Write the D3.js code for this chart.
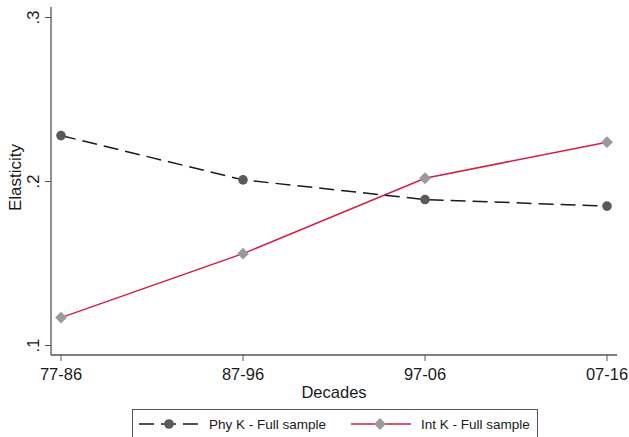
<!DOCTYPE html>
<html>
<head>
<meta charset="utf-8">
<script src="https://cdn.jsdelivr.net/npm/d3@7"></script>
<style>
  body { margin: 0; background: #fff; }
  text { font-family: "Liberation Sans", Arial, sans-serif; fill: #1a1a1a; }
</style>
</head>
<body>
<div id="chart"></div>
<script>
const decades = ["77-86", "87-96", "97-06", "07-16"];
const phyK = [0.228, 0.201, 0.189, 0.185];
const intK = [0.117, 0.156, 0.202, 0.224];
const yTicks = [0.1, 0.2, 0.3];

const width = 629, height = 437;

const svg = d3.select("#chart")
  .append("svg")
  .attr("width", width)
  .attr("height", height);

const x = d3.scalePoint()
  .domain(decades)
  .range([61, 607]);

const y = d3.scaleLinear()
  .domain([0.1, 0.3])
  .range([345.5, 17.5]);

const axisColor = "#555";

// plot region axis lines
svg.append("line")
  .attr("x1", 51).attr("x2", 51)
  .attr("y1", 7).attr("y2", 355)
  .attr("stroke", axisColor).attr("stroke-width", 1.3);
svg.append("line")
  .attr("x1", 51).attr("x2", 617)
  .attr("y1", 355).attr("y2", 355)
  .attr("stroke", axisColor).attr("stroke-width", 1.3);

// y ticks
const yAxis = svg.append("g");
yAxis.selectAll("line")
  .data(yTicks)
  .join("line")
  .attr("x1", 45).attr("x2", 51)
  .attr("y1", d => y(d)).attr("y2", d => y(d))
  .attr("stroke", axisColor);
yAxis.selectAll("text")
  .data(yTicks)
  .join("text")
  .attr("transform", d => `translate(39,${y(d)}) rotate(-90)`)
  .attr("text-anchor", "middle")
  .attr("font-size", 16.5)
  .text(d => d3.format(".1f")(d).replace(/^0/, ""));

svg.append("text")
  .attr("transform", `translate(21,${y(0.2) - 4}) rotate(-90)`)
  .attr("text-anchor", "middle")
  .attr("font-size", 17)
  .text("Elasticity");

// x ticks
const xAxis = svg.append("g");
xAxis.selectAll("line")
  .data(decades)
  .join("line")
  .attr("x1", d => x(d)).attr("x2", d => x(d))
  .attr("y1", 355).attr("y2", 361)
  .attr("stroke", axisColor);
xAxis.selectAll("text")
  .data(decades)
  .join("text")
  .attr("x", d => x(d))
  .attr("y", 380)
  .attr("text-anchor", "middle")
  .attr("font-size", 16.5)
  .text(d => d);

svg.append("text")
  .attr("x", 334)
  .attr("y", 398)
  .attr("text-anchor", "middle")
  .attr("font-size", 16.5)
  .text("Decades");

const line = d3.line()
  .x((d, i) => x(decades[i]))
  .y(d => y(d));

const phyColor = "#1a1a1a", phyMarker = "#5a5a5a";
const intColor = "#d21f47", intMarker = "#9a9a9a";

svg.append("path")
  .datum(intK)
  .attr("d", line)
  .attr("fill", "none")
  .attr("stroke", intColor)
  .attr("stroke-width", 1.5);

svg.append("path")
  .datum(phyK)
  .attr("d", line)
  .attr("fill", "none")
  .attr("stroke", phyColor)
  .attr("stroke-width", 1.5)
  .attr("stroke-dasharray", "15,7");

const diamond = d3.symbol().type(d3.symbolDiamond2).size(90);

svg.append("g")
  .selectAll("path")
  .data(intK)
  .join("path")
  .attr("d", diamond)
  .attr("transform", (d, i) => `translate(${x(decades[i])},${y(d)})`)
  .attr("fill", intMarker);

svg.append("g")
  .selectAll("circle")
  .data(phyK)
  .join("circle")
  .attr("cx", (d, i) => x(decades[i]))
  .attr("cy", d => y(d))
  .attr("r", 4.8)
  .attr("fill", phyMarker);

// legend
const legend = svg.append("g");
legend.append("rect")
  .attr("x", 132.5).attr("y", 409.5)
  .attr("width", 405).attr("height", 40)
  .attr("fill", "#fff")
  .attr("stroke", axisColor);

const ly = 424;
legend.append("line")
  .attr("x1", 139).attr("x2", 200)
  .attr("y1", ly).attr("y2", ly)
  .attr("stroke", phyColor).attr("stroke-width", 1.5)
  .attr("stroke-dasharray", "15,7");
legend.append("circle")
  .attr("cx", 169).attr("cy", ly).attr("r", 4.8)
  .attr("fill", phyMarker);
legend.append("text")
  .attr("x", 209).attr("y", ly + 5)
  .attr("font-size", 13.5)
  .text("Phy K - Full sample");

legend.append("line")
  .attr("x1", 351).attr("x2", 411)
  .attr("y1", ly).attr("y2", ly)
  .attr("stroke", intColor).attr("stroke-width", 1.5);
legend.append("path")
  .attr("d", diamond)
  .attr("transform", `translate(380,${ly})`)
  .attr("fill", intMarker);
legend.append("text")
  .attr("x", 421).attr("y", ly + 5)
  .attr("font-size", 13.5)
  .text("Int K - Full sample");
</script>
</body>
</html>
